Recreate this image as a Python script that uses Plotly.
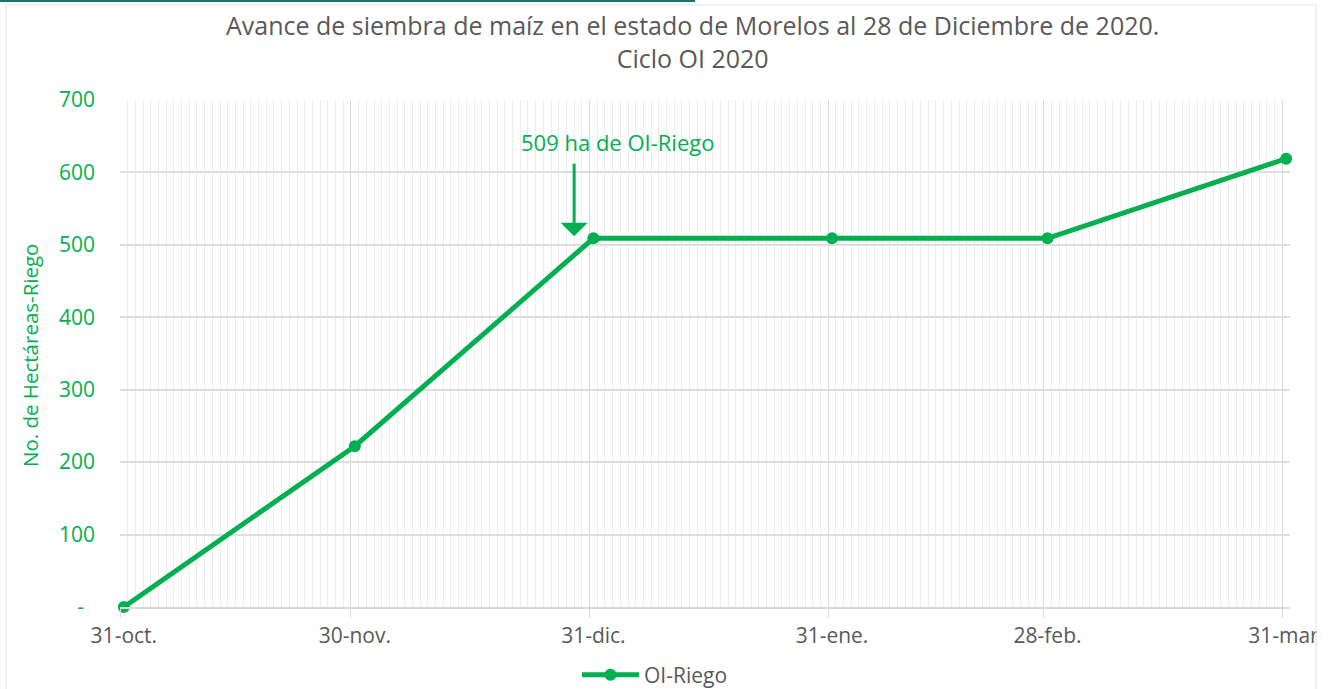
import plotly.graph_objects as go
import pandas as pd

# ---- data ----
dates = ["2020-10-31", "2020-11-30", "2020-12-31", "2021-01-31", "2021-02-28", "2021-03-31"]
date_labels = ["31-oct.", "30-nov.", "31-dic.", "31-ene.", "28-feb.", "31-mar."]
oi_riego = [0, 222, 509, 509, 509, 619]
series_name = "OI-Riego"
y_ticks = [0, 100, 200, 300, 400, 500, 600, 700]
y_ticktext = ["-\u00a0\u00a0", "100", "200", "300", "400", "500", "600", "700"]
annot_text = "509 ha de OI-Riego"
title_line1 = "Avance de siembra de maíz en el estado de Morelos al 28 de Diciembre de 2020."
title_line2 = "Ciclo OI 2020"
y_title = "No. de Hectáreas-Riego"

GREEN = "#00B050"
GRAY_TXT = "#595959"
FONT = "Open Sans"

d = pd.to_datetime(dates)
half = pd.Timedelta(hours=12)
grid_vals = [(x - half).strftime("%Y-%m-%d %H:%M") for x in d]
x_range = [(d[0] - half).strftime("%Y-%m-%d %H:%M"), (d[-1] + half).strftime("%Y-%m-%d %H:%M")]

L, R, T, B = 120, 39, 100, 82
W, H = 1329, 689
px_w, px_h = W - L - R, H - T - B
def px(xp):
    return (xp - L) / px_w
def py(yp):
    return (H - B - yp) / px_h

fig = go.Figure()
fig.add_trace(go.Scatter(
    x=dates, y=oi_riego, name=series_name, mode="lines+markers",
    line=dict(color=GREEN, width=5), marker=dict(color=GREEN, size=12),
    xaxis="x", yaxis="y", cliponaxis=False,
))
# invisible trace so the label axis renders
fig.add_trace(go.Scatter(x=[dates[0]], y=[0], xaxis="x2", yaxis="y", mode="markers",
                         marker=dict(opacity=0), showlegend=False, hoverinfo="skip"))

fig.update_layout(
    width=W, height=H, autosize=False,
    margin=dict(l=L, r=R, t=T, b=B),
    paper_bgcolor="white", plot_bgcolor="white",
    font=dict(family=FONT, color=GRAY_TXT),
    showlegend=True,
    legend=dict(orientation="h", x=px(655), xanchor="center",
                yref="container", y=1 - 675 / H, yanchor="middle",
                bgcolor="rgba(0,0,0,0)", itemwidth=57,
                font=dict(family=FONT, size=21, color=GRAY_TXT)),
    xaxis=dict(
        type="date", range=x_range, automargin=False,
        tickmode="array", tickvals=grid_vals, showticklabels=False,
        showgrid=True, gridcolor="#d9d9d9", gridwidth=1,
        ticks="outside", ticklen=9, tickcolor="#d9d9d9", tickwidth=1,
        showline=True, linecolor="#d9d9d9", linewidth=1.5,
        zeroline=False,
        minor=dict(dtick=86400000, tick0=x_range[0], showgrid=True,
                   gridcolor="#ededed", gridwidth=1, ticks=""),
    ),
    xaxis2=dict(
        type="date", range=x_range, overlaying="x", side="bottom", automargin=False,
        tickmode="array", tickvals=dates, ticktext=date_labels,
        showgrid=False, ticks="", showline=False, zeroline=False,
        ticklabelstandoff=14,
        tickfont=dict(family=FONT, size=21, color=GRAY_TXT),
    ),
    yaxis=dict(
        range=[0, 700], tickmode="array", tickvals=y_ticks, ticktext=y_ticktext,
        automargin=False,
        showgrid=True, gridcolor="#dedede", gridwidth=1.5, zeroline=False,
        showline=False, ticks="", ticklabelstandoff=24,
        tickfont=dict(family=FONT, size=21, color=GREEN),
    ),
)

# title (two lines in one text block)
fig.add_annotation(x=px(692), y=py(41), xref="paper", yref="paper",
                   text=title_line1 + "<br>" + title_line2,
                   showarrow=False, xanchor="center", yanchor="middle", align="center",
                   font=dict(family=FONT, size=25, color=GRAY_TXT))
# y-axis title
fig.add_annotation(x=px(30), y=py(356), xref="paper", yref="paper", text=y_title,
                   showarrow=False, textangle=-90, xanchor="center", yanchor="middle",
                   font=dict(family=FONT, size=20.5, color=GREEN))

# annotation: arrow + text
arrow_x = (d[2] - pd.Timedelta(days=2, hours=12)).strftime("%Y-%m-%d %H:%M")
fig.add_annotation(x=arrow_x, y=oi_riego[2] + 3, xref="x", yref="y", text="",
                   showarrow=True, arrowhead=1, arrowsize=1.5, arrowwidth=3,
                   arrowcolor=GREEN, ax=0, ay=-74, standoff=0)
fig.add_annotation(x=px(617), y=py(142), xref="paper", yref="paper", text=annot_text,
                   showarrow=False, xanchor="center", yanchor="middle",
                   font=dict(family=FONT, size=22, color=GREEN))

# white mask clipping the last label at the chart border, then the border
fig.add_shape(type="rect", xref="paper", yref="paper", x0=px(1316.5), x1=px(1345),
              y0=py(700), y1=py(-10), fillcolor="white", line=dict(width=0), layer="above")
fig.add_shape(type="rect", xref="paper", yref="paper", x0=px(6), x1=px(1316),
              y0=py(700), y1=py(5), fillcolor="rgba(0,0,0,0)",
              line=dict(color="#e3e3e3", width=1), layer="above")
fig.add_shape(type="line", xref="paper", yref="paper", x0=px(0), x1=px(695),
              y0=py(1), y1=py(1), line=dict(color="#17766c", width=2), layer="above")

fig.write_html(
    "out.html",
    config={"responsive": False, "displayModeBar": False},
    post_script="document.body.style.margin='0px';document.body.style.overflow='hidden';",
)
